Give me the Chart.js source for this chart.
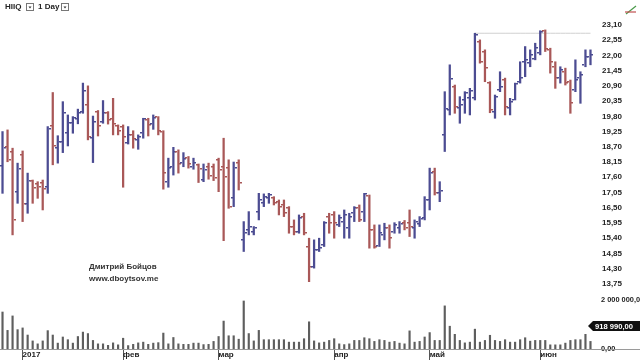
<!DOCTYPE html>
<html><head><meta charset="utf-8">
<script src="https://cdn.jsdelivr.net/npm/chart.js@4.4.1/dist/chart.umd.min.js"></script>
<style>html,body{margin:0;padding:0;background:#fff;overflow:hidden}#wrap{position:relative;width:640px;height:360px}</style>
</head><body><div id="wrap"><canvas id="c"></canvas></div>
<script>
// ---- data ----
const ticker = 'HIIQ';
const period = '1 Day';
const monthDays = [
  ['2016-12', [27,28,29,30]],
  ['2017-01', [3,4,5,6,9,10,11,12,13,17,18,19,20,23,24,25,26,27,30,31]],
  ['2017-02', [1,2,3,6,7,8,9,10,13,14,15,16,17,21,22,23,24,27,28]],
  ['2017-03', [1,2,3,6,7,8,9,10,13,14,15,16,17,20,21,22,23,24,27,28,29,30,31]],
  ['2017-04', [3,4,5,6,7,10,11,12,13,17,18,19,20,21,24,25,26,27,28]],
  ['2017-05', [1,2,3,4,5,8,9,10,11,12,15,16,17,18,19,22,23,24,25,26,30,31]],
  ['2017-06', [1,2,5,6,7,8,9,12,13,14,15]]
];
const monthTickLabels = {'2017-01':'2017','2017-02':'фев','2017-03':'мар','2017-04':'апр','2017-05':'май','2017-06':'июн'};

const opens = [18.02,18.70,18.53,17.06,18.41,16.64,17.47,17.36,17.40,17.24,
 19.45,18.65,18.89,19.21,19.55,19.70,19.95,20.21,19.01,19.97,
 19.61,19.91,19.70,19.45,19.43,18.85,19.13,18.95,19.19,19.67,
 19.53,19.77,19.25,17.44,17.96,18.53,18.11,18.29,17.96,18.05,
 17.50,17.98,17.98,18.23,17.98,17.94,16.85,18.12,15.34,15.70,
 15.64,16.36,16.68,16.84,16.84,16.72,16.60,16.48,15.82,15.64,
 16.18,15.10,14.37,14.98,15.16,16.18,16.24,15.88,16.00,15.76,
 16.30,16.48,16.35,16.94,15.70,15.12,15.52,15.76,15.64,15.76,
 15.94,15.94,15.76,15.92,16.12,16.78,17.80,17.02,19.13,20.03,
 20.87,20.09,20.39,20.45,20.45,22.50,22.14,21.02,19.97,20.75,
 21.11,20.09,20.39,21.05,21.77,21.72,21.86,22.08,22.89,22.20,
 21.59,21.18,21.41,21.05,20.75,21.18,21.66,21.96];
const highs = [19.25,19.31,18.65,18.11,18.55,17.75,17.50,17.44,17.50,19.43,
 20.66,19.10,20.33,19.85,19.79,20.06,21.00,20.90,19.81,20.01,
 20.37,19.97,20.45,19.49,19.49,19.43,19.28,19.13,19.73,19.73,
 19.85,19.79,19.28,18.29,18.68,18.59,18.49,18.35,18.29,18.08,
 18.08,18.11,18.08,18.29,19.01,18.23,18.15,18.23,16.00,16.36,
 15.82,17.02,17.00,17.02,16.90,16.78,16.78,16.54,16.06,16.24,
 16.30,15.40,15.34,15.40,16.00,16.30,16.36,16.24,16.42,16.30,
 16.54,16.60,17.02,16.96,15.88,15.88,15.94,15.88,15.96,16.00,
 16.04,16.42,16.06,16.18,16.90,17.93,17.93,17.44,20.69,21.66,
 20.93,20.51,20.69,20.81,22.80,22.56,22.20,21.05,20.57,21.41,
 21.18,20.45,21.00,21.77,22.32,22.20,22.44,22.89,22.92,22.26,
 21.77,21.59,21.54,21.11,21.84,21.41,22.20,22.20];
const lows = [17.02,18.16,15.52,16.66,16.00,16.30,16.66,16.84,16.42,17.02,
 18.05,18.11,18.49,18.73,19.19,19.53,19.91,18.95,18.13,19.09,
 19.55,19.52,19.13,19.13,17.24,18.80,18.65,18.61,19.01,19.09,
 19.33,19.13,17.17,17.24,17.68,17.75,17.98,17.93,17.89,17.41,
 17.44,17.53,17.48,17.08,15.31,16.48,16.54,17.14,14.92,15.52,
 15.52,16.06,16.54,16.66,16.60,16.24,16.18,15.58,15.52,15.58,
 15.52,13.83,14.32,14.92,15.10,15.58,15.40,15.82,15.40,15.40,
 16.00,16.00,16.00,15.04,15.04,15.10,15.34,15.04,15.58,15.58,
 15.70,15.46,15.40,15.82,16.06,16.42,16.96,16.72,18.53,19.85,
 19.91,19.55,19.91,19.85,20.39,21.72,21.05,19.93,19.73,20.69,
 19.85,19.85,20.39,21.00,21.23,21.59,21.84,22.02,22.14,21.36,
 20.81,21.00,20.93,19.91,20.69,20.27,21.59,21.66];
const closes = [18.67,18.23,16.06,17.89,16.64,17.47,17.23,17.26,17.18,19.33,
 18.73,18.89,19.91,19.55,19.75,19.91,20.72,19.07,19.61,19.45,
 19.93,19.67,19.53,19.28,19.07,19.13,18.97,19.07,19.70,19.49,
 19.73,19.28,17.75,17.93,18.53,18.08,18.25,18.08,18.11,17.89,
 17.86,17.65,17.57,17.86,17.60,16.54,17.94,17.40,15.59,15.82,
 15.76,16.78,16.90,16.96,16.66,16.54,16.30,15.82,15.64,16.12,
 15.58,14.37,14.98,15.04,15.94,15.94,15.94,16.12,16.24,16.18,
 16.48,16.06,17.00,15.70,15.10,15.58,15.76,15.40,15.88,15.92,
 15.76,15.82,16.00,16.09,16.78,17.75,17.02,17.12,20.06,21.14,
 20.15,20.21,20.63,20.73,22.74,21.77,21.54,20.03,20.49,20.87,
 20.13,20.33,20.97,21.18,21.84,22.02,22.26,22.86,22.22,21.77,
 21.18,21.48,21.02,20.27,21.11,21.29,21.96,22.02];
const volumes = [1510000,760000,1350000,790000,860000,570000,330000,210000,330000,750000,
 570000,240000,490000,380000,240000,510000,690000,630000,350000,210000,
 210000,150000,250000,170000,440000,140000,190000,250000,280000,190000,
 240000,260000,650000,210000,470000,210000,190000,190000,240000,240000,
 180000,190000,310000,510000,1140000,540000,540000,400000,1960000,630000,
 330000,760000,380000,380000,380000,380000,380000,280000,280000,280000,
 420000,1110000,330000,250000,280000,350000,420000,210000,180000,210000,
 350000,350000,460000,420000,310000,380000,350000,280000,310000,240000,
 210000,740000,280000,310000,490000,670000,350000,350000,1760000,930000,
 600000,350000,250000,280000,810000,280000,350000,560000,350000,310000,
 380000,280000,280000,380000,460000,320000,350000,350000,350000,170000,
 170000,170000,240000,350000,380000,380000,600000,310000];
const lastVolumeTag = 918990;
const priceTicks = [13.75,14.30,14.85,15.40,15.95,16.50,17.05,17.60,18.15,18.70,19.25,19.80,20.35,20.90,21.45,22.00,22.55,23.10];
const volumeTicks = [0, 2000000];
const resistanceLevel = 22.80;
const resistanceFromIndex = 94;
const watermark = ['Дмитрий Бойцов', 'www.dboytsov.me'];

// ---- derived ----
const dates = [];
monthDays.forEach(([m, days]) => days.forEach(d => dates.push(m + '-' + String(d).padStart(2,'0'))));
const monthLabel = i => {
  if (i === 0) return '';
  const m = dates[i].slice(0,7);
  return m !== dates[i-1].slice(0,7) ? (monthTickLabels[m] || '') : '';
};
const upColor = '#4c4c92', downColor = '#a95858';
const barColors = opens.map((o,i) => closes[i] >= o ? upColor : downColor);
const fmtPrice = v => v.toFixed(2).replace('.', ',');
const fmtVol = v => Math.round(v).toString().replace(/\B(?=(\d{3})+(?!\d))/g, ' ') + ',00';
const axisFont = {family:'Liberation Sans', size:8, weight:'bold'};
const volFont = {family:'Liberation Sans', size:7.4, weight:'bold'};
const noPad = s => { s.paddingTop = 0; s.paddingBottom = 0; s.paddingLeft = 0; s.paddingRight = 0; };

const ohlcTicks = {
  id: 'ohlcTicks',
  afterDatasetsDraw(chart) {
    const {ctx, scales:{x, y}} = chart;
    ctx.save();
    for (let i = 0; i < opens.length; i++) {
      const px = Math.round(x.getPixelForValue(i));
      ctx.fillStyle = barColors[i];
      ctx.fillRect(px - 3, Math.round(y.getPixelForValue(opens[i])) - 1, 2, 1.5);
      ctx.fillRect(px + 1, Math.round(y.getPixelForValue(closes[i])) - 1, 2, 1.5);
    }
    ctx.restore();
  }
};
const decor = {
  id: 'decor',
  afterDraw(chart) {
    const {ctx, chartArea, scales:{yv}} = chart;
    ctx.save();
    ctx.strokeStyle = '#9a9a9a'; ctx.lineWidth = 1;
    ctx.beginPath(); ctx.moveTo(0, Math.round(chartArea.bottom) + 0.5); ctx.lineTo(640, Math.round(chartArea.bottom) + 0.5); ctx.stroke();
    ctx.fillStyle = '#222'; ctx.font = 'bold 8px "Liberation Sans"'; ctx.textBaseline = 'middle';
    ctx.fillText(ticker, 5, 7);
    ctx.fillText(period, 38, 7);
    [[26,3],[61,3]].forEach(([bx,by]) => {
      ctx.strokeStyle = '#777'; ctx.strokeRect(bx + 0.5, by + 0.5, 7, 7);
      ctx.beginPath(); ctx.moveTo(bx + 2.5, by + 3.5); ctx.lineTo(bx + 5.5, by + 3.5); ctx.lineTo(bx + 4, by + 5.5); ctx.closePath(); ctx.fillStyle = '#333'; ctx.fill();
    });
    ctx.lineWidth = 1.2;
    ctx.strokeStyle = '#4a9a4a'; ctx.beginPath(); ctx.moveTo(626, 14); ctx.lineTo(636, 6); ctx.stroke();
    ctx.strokeStyle = '#c05050'; ctx.beginPath(); ctx.moveTo(625, 12); ctx.lineTo(636, 12); ctx.stroke();
    ctx.fillStyle = '#333'; ctx.font = 'bold 8px "Liberation Sans"'; ctx.textBaseline = 'middle';
    ctx.fillText(watermark[0], 89, 267);
    ctx.fillText(watermark[1], 89, 279);
    const ty = Math.round(yv.getPixelForValue(lastVolumeTag));
    ctx.fillStyle = '#111';
    ctx.beginPath(); ctx.moveTo(588, ty); ctx.lineTo(593, ty - 5); ctx.lineTo(640, ty - 5); ctx.lineTo(640, ty + 5); ctx.lineTo(593, ty + 5); ctx.closePath(); ctx.fill();
    ctx.fillStyle = '#fff'; ctx.font = 'bold 7.6px "Liberation Sans"';
    ctx.fillText(fmtVol(lastVolumeTag), 595, ty + 0.5);
    ctx.restore();
  }
};

new Chart(document.getElementById('c'), {
  type: 'bar',
  data: {
    labels: dates,
    datasets: [
      {type:'line', data: dates.map((d,i) => i >= resistanceFromIndex ? resistanceLevel : null), yAxisID:'y',
       borderColor:'#d0d0d0', borderWidth:1, pointRadius:0, spanGaps:true, order:3},
      {data: lows.map((l,i) => [l, highs[i]]), yAxisID:'y', backgroundColor: barColors,
       barThickness:1.6, borderSkipped:false, grouped:false, order:1},
      {data: volumes, yAxisID:'yv', backgroundColor:'#5e5e5e', barThickness:1.5, grouped:false, order:2}
    ]
  },
  options: {
    responsive:true, maintainAspectRatio:false, animation:false, devicePixelRatio:1,
    layout:{padding:0},
    plugins:{legend:{display:false}, tooltip:{enabled:false}},
    scales:{
      x:{type:'category', offset:true,
         grid:{display:true, offset:false, drawOnChartArea:false, drawTicks:true, tickLength:11,
               color: c => monthLabel(c.index) ? '#555' : 'rgba(0,0,0,0)'},
         border:{display:false},
         ticks:{autoSkip:false, maxRotation:0, minRotation:0, align:'start', padding:-10, color:'#222', font:axisFont,
                callback:(v,i) => monthLabel(i)},
         afterFit: s => { s.height = 11; noPad(s); }},
      y:{position:'right', stack:'pv', stackWeight:290, min:13.53, max:24.0,
         grid:{display:false}, border:{display:false},
         ticks:{autoSkip:false, padding:1, color:'#222', font:axisFont, callback: v => fmtPrice(v)},
         afterBuildTicks: s => { s.ticks = priceTicks.map(v => ({value:v})); },
         afterFit: s => { s.width = 47; noPad(s); }},
      yv:{position:'right', stack:'pv', stackWeight:59, min:0, max:2408000,
         grid:{display:false}, border:{display:false},
         ticks:{autoSkip:false, padding:0, color:'#222', font:volFont, callback: v => fmtVol(v)},
         afterBuildTicks: s => { s.ticks = volumeTicks.map(v => ({value:v})); },
         afterFit: s => { s.width = 47; noPad(s); }}
    }
  },
  plugins:[ohlcTicks, decor]
});
</script></body></html>
